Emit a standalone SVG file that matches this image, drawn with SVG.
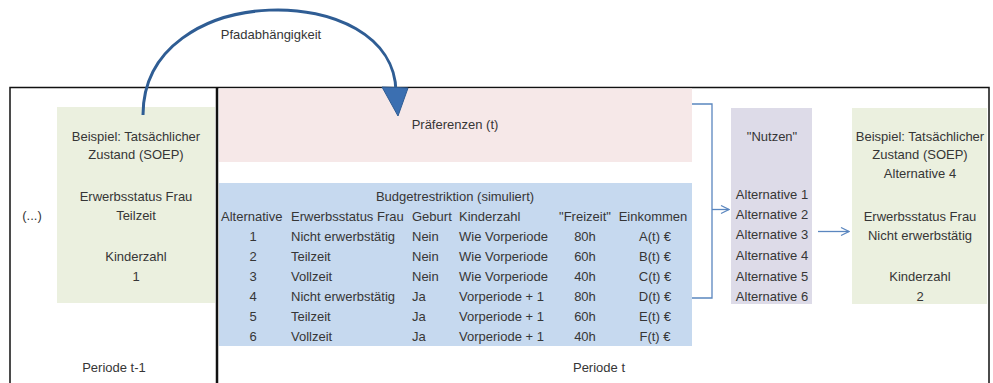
<svg xmlns="http://www.w3.org/2000/svg" width="993" height="383" viewBox="0 0 993 383">
  <style>
    text { font-family: "Liberation Sans", Arial, sans-serif; font-size: 13px; fill: #363636; }
    .c { text-anchor: middle; }
    .frame { fill: none; stroke: #111; stroke-width: 1.5; }
    .conn { fill: none; stroke: #5a86bf; stroke-width: 1.3; }
    .green { fill: #ebf0df; }
  </style>
  <defs>
    <marker id="open" viewBox="0 0 10 10" refX="9" refY="5" markerWidth="10" markerHeight="10" markerUnits="userSpaceOnUse" orient="auto">
      <path d="M1,1 L9,5 L1,9" fill="none" stroke="#5a86bf" stroke-width="1.2"/>
    </marker>
  </defs>

  <rect width="993" height="383" fill="#fff"/>

  <!-- period frames -->
  <g id="frames">
    <path class="frame" d="M10,383 V87.5 H989 V383"/>
    <line x1="217" y1="87" x2="217" y2="383" stroke="#111" stroke-width="2.5"/>
  </g>

  <!-- previous period state -->
  <g id="state-prev">
    <rect class="green" x="57" y="107" width="158" height="196"/>
    <text class="c" x="136" y="141">Beispiel: Tatsächlicher</text>
    <text class="c" x="136" y="159">Zustand (SOEP)</text>
    <text class="c" x="136" y="201">Erwerbsstatus Frau</text>
    <text class="c" x="136" y="220">Teilzeit</text>
    <text class="c" x="136" y="261">Kinderzahl</text>
    <text class="c" x="136" y="281">1</text>
  </g>
  <g id="ellipsis"><text class="c" x="32" y="220">(...)</text></g>
  <g id="label-prev"><text class="c" x="114" y="372">Periode t-1</text></g>

  <!-- preferences -->
  <g id="praeferenzen">
    <rect x="219" y="88.5" width="473" height="73.5" fill="#f6e8e8"/>
    <text class="c" x="455" y="129">Präferenzen (t)</text>
  </g>

  <!-- budget constraint table -->
  <g id="budget">
    <rect x="219" y="183" width="473" height="163" fill="#c6d9ef"/>
    <text class="c" x="455" y="201">Budgetrestriktion (simuliert)</text>
    <g>
      <text x="221" y="221">Alternative</text>
      <text x="291" y="221">Erwerbsstatus Frau</text>
      <text x="412" y="221">Geburt</text>
      <text x="459" y="221">Kinderzahl</text>
      <text class="c" x="585" y="221">"Freizeit"</text>
      <text class="c" x="653" y="221">Einkommen</text>
    </g>
    <g class="c">
      <text class="c" x="253" y="241">1</text>
      <text class="c" x="253" y="261">2</text>
      <text class="c" x="253" y="281">3</text>
      <text class="c" x="253" y="301">4</text>
      <text class="c" x="253" y="321">5</text>
      <text class="c" x="253" y="341">6</text>
    </g>
    <text x="291" y="241">Nicht erwerbstätig</text>
    <text x="291" y="261">Teilzeit</text>
    <text x="291" y="281">Vollzeit</text>
    <text x="291" y="301">Nicht erwerbstätig</text>
    <text x="291" y="321">Teilzeit</text>
    <text x="291" y="341">Vollzeit</text>
    <text x="412" y="241">Nein</text>
    <text x="412" y="261">Nein</text>
    <text x="412" y="281">Nein</text>
    <text x="412" y="301">Ja</text>
    <text x="412" y="321">Ja</text>
    <text x="412" y="341">Ja</text>
    <text x="459" y="241">Wie Vorperiode</text>
    <text x="459" y="261">Wie Vorperiode</text>
    <text x="459" y="281">Wie Vorperiode</text>
    <text x="459" y="301">Vorperiode + 1</text>
    <text x="459" y="321">Vorperiode + 1</text>
    <text x="459" y="341">Vorperiode + 1</text>
    <text class="c" x="585" y="241">80h</text>
    <text class="c" x="585" y="261">60h</text>
    <text class="c" x="585" y="281">40h</text>
    <text class="c" x="585" y="301">80h</text>
    <text class="c" x="585" y="321">60h</text>
    <text class="c" x="585" y="341">40h</text>
    <text class="c" x="655" y="241">A(t) €</text>
    <text class="c" x="655" y="261">B(t) €</text>
    <text class="c" x="655" y="281">C(t) €</text>
    <text class="c" x="655" y="301">D(t) €</text>
    <text class="c" x="655" y="321">E(t) €</text>
    <text class="c" x="655" y="341">F(t) €</text>
  </g>
  <g id="label-t"><text class="c" x="599" y="372">Periode t</text></g>

  <!-- utility -->
  <g id="nutzen">
    <rect x="731" y="108" width="81" height="196" fill="#dddbe8"/>
    <text class="c" x="772" y="141">"Nutzen"</text>
    <text class="c" x="772" y="199">Alternative 1</text>
    <text class="c" x="772" y="219">Alternative 2</text>
    <text class="c" x="772" y="239">Alternative 3</text>
    <text class="c" x="772" y="260">Alternative 4</text>
    <text class="c" x="772" y="281">Alternative 5</text>
    <text class="c" x="772" y="301">Alternative 6</text>
  </g>

  <!-- current period state -->
  <g id="state-t">
    <rect class="green" x="852" y="108" width="135" height="196"/>
    <text class="c" x="920" y="141">Beispiel: Tatsächlicher</text>
    <text class="c" x="920" y="159">Zustand (SOEP)</text>
    <text class="c" x="920" y="178">Alternative 4</text>
    <text class="c" x="920" y="221">Erwerbsstatus Frau</text>
    <text class="c" x="920" y="240">Nicht erwerbstätig</text>
    <text class="c" x="920" y="281">Kinderzahl</text>
    <text class="c" x="920" y="301">2</text>
  </g>

  <!-- connectors -->
  <g id="connectors">
    <path class="conn" d="M692,104 H712 V298 H692"/>
    <path class="conn" d="M712,209.5 H729" marker-end="url(#open)"/>
    <path class="conn" d="M818,231.5 H849" marker-end="url(#open)"/>
    <path d="M143,115 C143,-21 395,-21 396,92" fill="none" stroke="#2f5d94" stroke-width="3"/>
    <polygon points="382,87 408,88 398,116" fill="#3b6fb1" stroke="#2f5d94" stroke-width="1"/>
    <text class="c" x="271" y="39">Pfadabhängigkeit</text>
  </g>
</svg>
